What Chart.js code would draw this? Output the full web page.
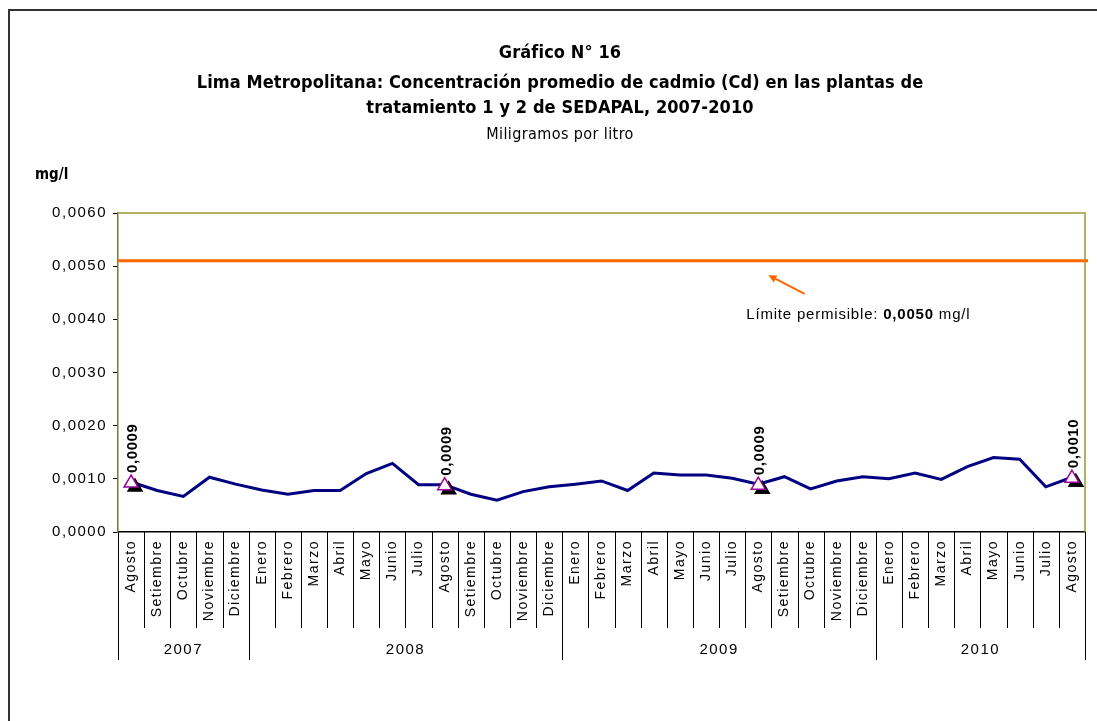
<!DOCTYPE html>
<html>
<head>
<meta charset="utf-8">
<script src="https://cdn.jsdelivr.net/npm/chart.js@4.4.1/dist/chart.umd.min.js"></script>
<style>
html, body { margin: 0; padding: 0; background: #fff; }
#wrap { width: 1097px; height: 721px; }
</style>
</head>
<body>
<div id="wrap"><canvas id="myChart"></canvas></div>
<script>
// categorias (meses) y grupos de anios
const meses = [
    'Agosto','Setiembre','Octubre','Noviembre','Diciembre',
    'Enero','Febrero','Marzo','Abril','Mayo','Junio','Julio','Agosto','Setiembre','Octubre','Noviembre','Diciembre',
    'Enero','Febrero','Marzo','Abril','Mayo','Junio','Julio','Agosto','Setiembre','Octubre','Noviembre','Diciembre',
    'Enero','Febrero','Marzo','Abril','Mayo','Junio','Julio','Agosto'
];
const anios = ['2007', '2008', '2009', '2010'];
const mesesPorAnio = [5, 12, 12, 8];

// concentracion promedio de cadmio (mg/l)
const cadmio = [
    0.00094, 0.00078, 0.00067, 0.00103, 0.00090,
    0.00079, 0.00071, 0.00078, 0.00078, 0.00110, 0.00129, 0.00089, 0.00089, 0.00071, 0.00060, 0.00076, 0.00085,
    0.00090, 0.00096, 0.00078, 0.00111, 0.00107, 0.00107, 0.00101, 0.00090, 0.00104, 0.00081, 0.00096, 0.00104,
    0.00100, 0.00111, 0.00099, 0.00123, 0.00140, 0.00137, 0.00085, 0.00103
];
const limite = 0.0051;          // linea de limite permisible (como se ve dibujada)
const limiteTexto = '0,0050';
const marcados = [0, 12, 24, 36];  // puntos con etiqueta (agostos)

const yMin = 0, yMax = 0.006, yPaso = 0.001;

const titulos = [
    'Gráfico N° 16',
    'Lima Metropolitana: Concentración promedio de cadmio (Cd) en las plantas de',
    'tratamiento 1 y 2 de SEDAPAL, 2007-2010'
];
const subtitulo = 'Miligramos por litro';

const fmt = v => v.toFixed(4).replace('.', ',');
const NARROW = '"Liberation Sans Narrow", "DejaVu Sans Condensed", Arial, sans-serif';
const SANS = '"Liberation Sans", Arial, sans-serif';

function tri(ctx, x, y, fill, stroke) {
    ctx.beginPath();
    ctx.moveTo(x, y - 7);
    ctx.lineTo(x - 7, y + 5);
    ctx.lineTo(x + 7, y + 5);
    ctx.closePath();
    ctx.fillStyle = fill;
    ctx.fill();
    ctx.strokeStyle = stroke;
    ctx.lineWidth = 1.5;
    ctx.stroke();
}

const decor = {
    id: 'decor',
    beforeDraw(chart) {
        chart.ctx.letterSpacing = '1.5px';
    },
    afterDatasetsDraw(chart) {
        const {ctx, chartArea: a, scales: {x, y}} = chart;
        ctx.save();
        // limite permisible
        const yl = y.getPixelForValue(limite);
        ctx.strokeStyle = '#ff6600';
        ctx.lineWidth = 3;
        ctx.beginPath();
        ctx.moveTo(a.left, yl);
        ctx.lineTo(a.right + 3, yl);
        ctx.stroke();

        // marcadores y etiquetas
        const meta = chart.getDatasetMeta(0);
        marcados.forEach(i => {
            const p = meta.data[i];
            tri(ctx, p.x + 4, p.y + 4, '#000', '#000');
            tri(ctx, p.x, p.y, '#fff', '#990099');
            ctx.save();
            ctx.translate(p.x + 2, p.y - 9);
            ctx.rotate(-Math.PI / 2);
            ctx.letterSpacing = '0.6px';
            ctx.font = 'bold 15px ' + SANS;
            ctx.fillStyle = '#000';
            ctx.textAlign = 'left';
            ctx.textBaseline = 'middle';
            ctx.fillText(fmt(cadmio[i]), 0, 0);
            ctx.restore();
        });
        ctx.restore();
    },
    afterDraw(chart) {
        const {ctx, chartArea: a, scales: {x, y}} = chart;
        ctx.save();
        ctx.letterSpacing = '0px';

        // borde superior y derecho del area de trazado
        ctx.strokeStyle = '#999933';
        ctx.lineWidth = 1.5;
        ctx.beginPath();
        ctx.moveTo(a.left, a.top);
        ctx.lineTo(a.right, a.top);
        ctx.lineTo(a.right, a.bottom);
        ctx.stroke();

        // separadores del eje x
        const n = meses.length;
        const w = (a.right - a.left) / n;
        const cortes = [0];
        mesesPorAnio.forEach(c => cortes.push(cortes[cortes.length - 1] + c));
        ctx.strokeStyle = '#000';
        ctx.lineWidth = 1;
        for (let k = 0; k <= n; k++) {
            const xx = Math.round(a.left + k * w) + 0.5;
            const largo = cortes.includes(k) ? 128 : 96;
            ctx.beginPath();
            ctx.moveTo(xx, a.bottom);
            ctx.lineTo(xx, a.bottom + largo);
            ctx.stroke();
        }

        // anios
        ctx.letterSpacing = '1.5px';
        ctx.font = '15px ' + SANS;
        ctx.fillStyle = '#000';
        ctx.textAlign = 'center';
        ctx.textBaseline = 'middle';
        anios.forEach((t, j) => {
            const cx = a.left + (cortes[j] + cortes[j + 1]) / 2 * w;
            ctx.fillText(t, cx, a.bottom + 118);
        });

        // titulos
        ctx.letterSpacing = '0.1px';
        ctx.font = 'bold 18px ' + NARROW;
        const cx = 560;
        ctx.fillText(titulos[0], cx, 53);
        ctx.fillText(titulos[1], cx, 83);
        ctx.fillText(titulos[2], cx, 108);
        ctx.letterSpacing = '0.4px';
        ctx.font = '16px ' + NARROW;
        ctx.fillText(subtitulo, cx, 135);

        // unidad del eje y
        ctx.letterSpacing = '0px';
        ctx.font = 'bold 15px ' + NARROW;
        ctx.textAlign = 'left';
        ctx.fillText('mg/l', 35, 175);

        // nota del limite
        ctx.letterSpacing = '0.8px';
        let tx = x.getPixelForValue(24) - 12;
        const ty = y.getPixelForValue(0.00408);
        const partes = [['Límite permisible: ', '15px '], [limiteTexto, 'bold 15px '], [' mg/l', '15px ']];
        partes.forEach(([t, f]) => {
            ctx.font = f + SANS;
            ctx.fillText(t, tx, ty);
            tx += ctx.measureText(t).width;
        });

        // flecha
        const x1 = x.getPixelForValue(26) - 6, y1 = y.getPixelForValue(0.00448);
        const x2 = x.getPixelForValue(24) + 10, y2 = y.getPixelForValue(0.00483);
        ctx.strokeStyle = '#ff6600';
        ctx.fillStyle = '#ff6600';
        ctx.lineWidth = 2;
        ctx.beginPath();
        ctx.moveTo(x1, y1);
        ctx.lineTo(x2 + 4, y2 + 2);
        ctx.stroke();
        const ang = Math.atan2(y2 - y1, x2 - x1);
        ctx.beginPath();
        ctx.moveTo(x2, y2);
        ctx.lineTo(x2 - 9 * Math.cos(ang - 0.45), y2 - 9 * Math.sin(ang - 0.45));
        ctx.lineTo(x2 - 9 * Math.cos(ang + 0.45), y2 - 9 * Math.sin(ang + 0.45));
        ctx.closePath();
        ctx.fill();

        // marco exterior
        ctx.strokeStyle = '#333';
        ctx.lineWidth = 2;
        ctx.beginPath();
        ctx.moveTo(9, 721);
        ctx.lineTo(9, 10);
        ctx.lineTo(1097, 10);
        ctx.stroke();
        ctx.restore();
    }
};

const ctx = document.getElementById('myChart');
const chart = new Chart(ctx, {
    type: 'line',
    data: {
        labels: meses,
        datasets: [{
            label: 'Cd',
            data: cadmio,
            borderColor: '#000080',
            borderWidth: 3,
            pointRadius: 0,
            tension: 0,
            fill: false
        }]
    },
    options: {
        responsive: true,
        maintainAspectRatio: false,
        animation: false,
        layout: { padding: { left: 0, right: 12, top: 213, bottom: 0 } },
        plugins: {
            legend: { display: false },
            tooltip: { enabled: false }
        },
        scales: {
            x: {
                offset: true,
                afterFit: s => { s.height = 721 - 532; },
                grid: { display: true, drawOnChartArea: false, drawTicks: false, color: 'rgba(0,0,0,0)' },
                border: { display: true, color: '#000', width: 1.5 },
                ticks: {
                    autoSkip: false,
                    minRotation: 90,
                    maxRotation: 90,
                    padding: 8,
                    color: '#000',
                    font: { family: SANS, size: 14 }
                }
            },
            y: {
                min: yMin,
                max: yMax,
                afterFit: s => { s.width = 118; },
                grid: { display: true, drawOnChartArea: false, tickLength: 5, color: '#000' },
                border: { display: true, color: '#7a7a30', width: 1.5 },
                ticks: {
                    stepSize: yPaso,
                    padding: 6,
                    color: '#000',
                    font: { family: SANS, size: 15 },
                    callback: v => fmt(v)
                }
            }
        }
    },
    plugins: [decor]
});
</script>
</body>
</html>
